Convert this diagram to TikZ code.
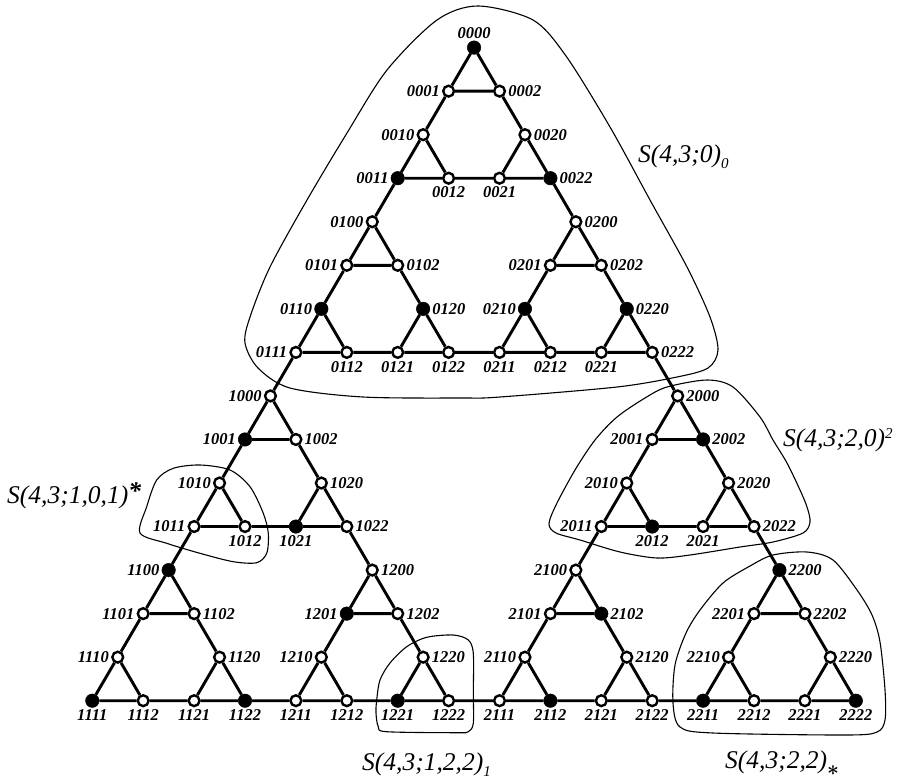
\documentclass[tikz,border=0pt]{standalone}
\usepackage{fontspec}
\setmainfont{Liberation Serif}
\newcommand\V[6]{\node[#5,label={#6:#1#2#3#4}] (v#1#2#3#4) at ({92.3+50.9*(8*fx(#1)+4*fx(#2)+2*fx(#3)+fx(#4))},{700.7-43.54*(8*fy(#1)+4*fy(#2)+2*fy(#3)+fy(#4))}) {};}
\begin{document}
\begin{tikzpicture}[x=1pt,y=-1pt,
  declare function={fx(\d)=(\d==0)*0.5+(\d==2); fy(\d)=(\d==0);},
  ov/.style={circle,draw,fill=white,line width=2.4pt,minimum size=10.8pt,inner sep=0pt},
  fv/.style={circle,fill=black,draw=black,line width=0.5pt,minimum size=13.5pt,inner sep=0pt},
  edge/.style={line width=2.9pt},
  blob/.style={line width=1.1pt},
  every label/.style={font=\fontsize{16.5}{17}\selectfont\bfseries\itshape,inner sep=0.5pt},
  label distance=1.5pt,
  bl/.style={font=\fontsize{25.5}{28}\selectfont\itshape,inner sep=0pt,anchor=base west}
]
\useasboundingbox (0,0) rectangle (904,779);
% enclosing curves
\draw[blob] plot[smooth cycle] coordinates {(478,6) (533,20) (566,56) (610,127) (650,200) (687,267) (710,317) (718,350) (708,368) (677,377) (617,387) (500,397) (463,398) (363,397) (290,388) (258,368) (245,343) (250,317) (270,267) (307,200) (347,133) (387,70) (437,20)};
\draw[blob] plot[smooth cycle] coordinates {(549,524) (556,505) (575,470) (595,440) (617,417) (645,398) (667,387) (707,380) (733,387) (760,417) (773,440) (787,463) (800,490) (807,507) (810,522) (803,533) (773,542) (740,547) (690,555) (657,558) (620,552) (580,540) (556,533)};
\draw[blob] plot[smooth cycle] coordinates {(686,633) (700,610) (723,583) (750,566) (773,555) (807,552) (833,560) (857,590) (872,615) (880,642) (885,690) (885,720) (877,732) (847,735) (713,733) (680,727) (673,703) (675,665)};
\draw[blob] plot[smooth cycle] coordinates {(140,533) (146.7,506.7) (156.7,480) (173.3,468.3) (200,465) (230,470) (250,486.7) (263.3,513.3) (268.3,533.3) (266.7,553.3) (256.7,562.7) (233.3,561.7) (200,553.3) (166.7,543.3)};
\draw[blob] plot[smooth cycle] coordinates {(376.7,700) (380,680) (390,663) (406.7,646.7) (426.7,637.3) (453.3,635) (468.3,640) (473.3,653.3) (473.3,693.3) (473.3,723.3) (468.3,731.7) (456.7,732.7) (386.7,731.7) (378.3,726.7) (376,713)};
% curve labels
\node[bl] (t0) at (638,162) {S(4,3;0)\raisebox{-6pt}{\fontsize{15}{15}\selectfont 0}};
\node[bl] (t1) at (783,446) {S(4,3;2,0)\raisebox{8pt}{\fontsize{15}{15}\selectfont 2}};
\node[bl] (t2) at (7,503) {S(4,3;1,0,1)\raisebox{4pt}{\bfseries *}};
\node[bl] (t3) at (362,770) {S(4,3;1,2,2)\raisebox{-6pt}{\fontsize{15}{15}\selectfont 1}};
\node[bl] (t4) at (725,768) {S(4,3;2,2)\raisebox{-7pt}{\fontsize{22}{22}\selectfont\boldmath$\ast$}};
% vertices
\V0000{fv}{above}
\V0001{ov}{left}
\V0002{ov}{right}
\V0010{ov}{left}
\V0011{fv}{left}
\V0012{ov}{below}
\V0020{ov}{right}
\V0021{ov}{below}
\V0022{fv}{right}
\V0100{ov}{left}
\V0101{ov}{left}
\V0102{ov}{right}
\V0110{fv}{left}
\V0111{ov}{left}
\V0112{ov}{below}
\V0120{fv}{right}
\V0121{ov}{below}
\V0122{ov}{below}
\V0200{ov}{right}
\V0201{ov}{left}
\V0202{ov}{right}
\V0210{fv}{left}
\V0211{ov}{below}
\V0212{ov}{below}
\V0220{fv}{right}
\V0221{ov}{below}
\V0222{ov}{right}
\V1000{ov}{left}
\V1001{fv}{left}
\V1002{ov}{right}
\V1010{ov}{left}
\V1011{ov}{left}
\V1012{ov}{below}
\V1020{ov}{right}
\V1021{fv}{below}
\V1022{ov}{right}
\V1100{fv}{left}
\V1101{ov}{left}
\V1102{ov}{right}
\V1110{ov}{left}
\V1111{fv}{below}
\V1112{ov}{below}
\V1120{ov}{right}
\V1121{ov}{below}
\V1122{fv}{below}
\V1200{ov}{right}
\V1201{fv}{left}
\V1202{ov}{right}
\V1210{ov}{left}
\V1211{ov}{below}
\V1212{ov}{below}
\V1220{ov}{right}
\V1221{fv}{below}
\V1222{ov}{below}
\V2000{ov}{right}
\V2001{ov}{left}
\V2002{fv}{right}
\V2010{ov}{left}
\V2011{ov}{left}
\V2012{fv}{below}
\V2020{ov}{right}
\V2021{ov}{below}
\V2022{ov}{right}
\V2100{ov}{left}
\V2101{ov}{left}
\V2102{fv}{right}
\V2110{ov}{left}
\V2111{ov}{below}
\V2112{fv}{below}
\V2120{ov}{right}
\V2121{ov}{below}
\V2122{ov}{below}
\V2200{fv}{right}
\V2201{ov}{left}
\V2202{ov}{right}
\V2210{ov}{left}
\V2211{fv}{below}
\V2212{ov}{below}
\V2220{ov}{right}
\V2221{ov}{below}
\V2222{fv}{below}
% edges
\foreach \a in {0,1,2}{\foreach \b in {0,1,2}{\foreach \c in {0,1,2}{
  \draw[edge] (v\a\b\c0)--(v\a\b\c1) (v\a\b\c1)--(v\a\b\c2) (v\a\b\c2)--(v\a\b\c0);}}}
\foreach \a in {0,1,2}{\foreach \b in {0,1,2}{
  \draw[edge] (v\a\b01)--(v\a\b10) (v\a\b02)--(v\a\b20) (v\a\b12)--(v\a\b21);}}
\foreach \a in {0,1,2}{
  \draw[edge] (v\a011)--(v\a100) (v\a022)--(v\a200) (v\a122)--(v\a211);}
\draw[edge] (v0111)--(v1000) (v0222)--(v2000) (v1222)--(v2111);
\end{tikzpicture}
\end{document}
